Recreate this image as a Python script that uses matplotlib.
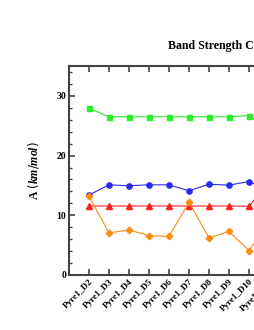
import matplotlib.pyplot as plt
import numpy as np

plt.rcParams['font.family'] = ['Liberation Serif', 'DejaVu Serif']
plt.rcParams['mathtext.fontset'] = 'custom'
plt.rcParams['mathtext.bf'] = 'Liberation Serif:bold'
plt.rcParams['mathtext.it'] = 'Liberation Serif:italic:bold'

# Data
samples = ['Pyre1_D2', 'Pyre1_D3', 'Pyre1_D4', 'Pyre1_D5', 'Pyre1_D6',
           'Pyre1_D7', 'Pyre1_D8', 'Pyre1_D9', 'Pyre1_D10', 'Pyre1_D11']
band_green = [27.9, 26.5, 26.5, 26.5, 26.5, 26.5, 26.5, 26.5, 26.7, 24.4]
band_blue = [13.4, 15.1, 14.95, 15.1, 15.1, 14.1, 15.2, 15.05, 15.65, 14.2]
band_red = [11.55, 11.55, 11.55, 11.55, 11.55, 11.55, 11.55, 11.55, 11.5, 15.5]
band_orange = [13.2, 7.05, 7.55, 6.6, 6.45, 12.2, 6.2, 7.3, 4.1, 8.7]

x = np.arange(len(samples))

fig = plt.figure(figsize=(2.55, 3.3), dpi=100, facecolor='white')
# axes run past the right edge of the figure, as in the reference crop
ax = fig.add_axes([69 / 255, 55 / 330, 220 / 255, 209 / 330])

ax.plot(x, band_green, color='#2aee2a', marker='s', markersize=3.6, linewidth=0.8)
ax.plot(x, band_blue, color='#2a2aee', marker='o', markersize=3.8, linewidth=0.8)
ax.plot(x, band_red, color='#ff2020', marker='^', markersize=3.8, linewidth=0.8)
ax.plot(x, band_orange, color='#ff8a10', marker='D', markersize=3.3, linewidth=0.8)

ax.set_xlim(-1, len(samples))
ax.set_ylim(0, 35)
ax.set_yticks([0, 10, 20, 30])
ax.set_yticks(np.arange(0, 35, 2), minor=True)
ax.set_xticks(x)
ax.set_xticklabels(samples, rotation=45, ha='right', rotation_mode='anchor',
                   fontsize=6.5, fontweight='bold')
for lab in ax.get_yticklabels():
    lab.set_fontsize(7)
    lab.set_fontweight('bold')

ax.tick_params(axis='both', which='major', direction='in', length=4, width=1.2,
               color='#444444', top=True, pad=2)
ax.tick_params(axis='y', which='minor', direction='in', length=2.5, width=1.0,
               color='#444444')
for sp in ax.spines.values():
    sp.set_linewidth(1.5)
    sp.set_color('#444444')

ax.set_ylabel(r'A $\mathit{(km/mol)}$', fontsize=8.5, fontweight='bold', labelpad=11)

fig.text(168 / 255, 1 - 46 / 330, 'Band Strength Comparison', ha='left', va='center',
         fontsize=8.6, fontweight='bold')

plt.savefig('out.png', dpi=100)
